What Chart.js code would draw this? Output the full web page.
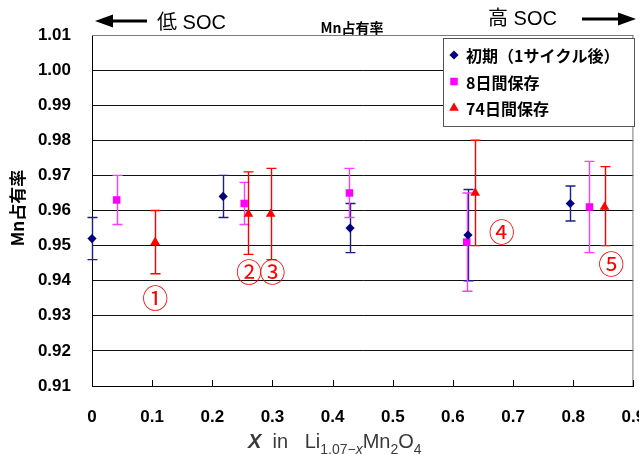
<!DOCTYPE html>
<html lang="ja">
<head>
<meta charset="utf-8">
<title>Mn占有率</title>
<script src="https://cdn.jsdelivr.net/npm/chart.js@4.4.1/dist/chart.umd.min.js"></script>
<style>
  html, body { margin: 0; padding: 0; background: #fff; overflow: hidden; }
  #wrap { width: 639px; height: 454px; }
</style>
</head>
<body>
<div id="wrap"><canvas id="mnChart" width="639" height="454"></canvas></div>
<script>
// Mn占有率 vs X in Li(1.07-x)Mn2O4
const xInitial = [0.000, 0.218, 0.429, 0.625, 0.795];
const yInitial = [0.952, 0.964, 0.955, 0.953, 0.962];
const loInitial = [0.946, 0.958, 0.948, 0.940, 0.957];
const hiInitial = [0.958, 0.970, 0.962, 0.966, 0.967];

const x8days = [0.041, 0.253, 0.428, 0.623, 0.827];
const y8days = [0.963, 0.962, 0.965, 0.951, 0.961];
const lo8days = [0.956, 0.956, 0.958, 0.937, 0.948];
const hi8days = [0.970, 0.968, 0.972, 0.965, 0.974];

const x74days = [0.105, 0.260, 0.297, 0.637, 0.852];
const y74days = [0.951, 0.959, 0.959, 0.965, 0.961];
const lo74days = [0.942, 0.9475, 0.946, 0.950, 0.950];
const hi74days = [0.960, 0.971, 0.972, 0.980, 0.9725];

const seriesNames = ['初期（1サイクル後）', '8日間保存', '74日間保存'];

// circled sample numbers, in data units
const noteText = ['①', '②', '③', '④', '⑤'];
const noteX = [0.105, 0.261, 0.300, 0.681, 0.863];
const noteY = [0.9354, 0.9426, 0.9426, 0.954, 0.945];

const yMin = 0.91, yMax = 1.01, yStep = 0.01;
const xMin = 0, xMax = 0.9, xStep = 0.1;

(function () {
    const navy = '#000080';
    const navyBar = '#1c1c94';
    const magenta = '#ff00ff';
    const magentaBar = '#ff3cff';
    const red = '#ff0000';
    const numFamily = "'Liberation Sans', 'DejaVu Sans', sans-serif";
    const jpFont = "'Liberation Sans', 'Noto Sans CJK JP', sans-serif";

    const pts = (xs, ys) => xs.map((x, i) => ({ x, y: ys[i] }));
    const errLow = [loInitial, lo8days, lo74days];
    const errHigh = [hiInitial, hi8days, hi74days];
    const barColors = [navyBar, magentaBar, red];
    const dotColors = [navy, magenta, red];
    const dotStyles = ['rectRot', 'rect', 'triangle'];
    const dotSizes = [4.6, 5.3, 5.6];

    const fmt = v => (Math.abs(v) < 1e-9 ? '0' : v.toFixed(v >= 0.905 ? 2 : 1));

    const errorBars = {
        id: 'errorBars',
        beforeDatasetsDraw(chart) {
            const { ctx, scales: { x, y } } = chart;
            chart.data.datasets.forEach((ds, i) => {
                ctx.save();
                ctx.strokeStyle = barColors[i];
                ctx.lineWidth = 1.4;
                ds.data.forEach((p, j) => {
                    const px = Math.round(x.getPixelForValue(p.x)) + 0.5;
                    const top = y.getPixelForValue(errHigh[i][j]);
                    const bot = y.getPixelForValue(errLow[i][j]);
                    ctx.beginPath();
                    ctx.moveTo(px, top); ctx.lineTo(px, bot);
                    ctx.moveTo(px - 5, top); ctx.lineTo(px + 5, top);
                    ctx.moveTo(px - 5, bot); ctx.lineTo(px + 5, bot);
                    ctx.stroke();
                });
                ctx.restore();
            });
        }
    };

    function arrow(ctx, x0, x1, y) {
        const dir = Math.sign(x1 - x0);
        ctx.beginPath();
        ctx.lineWidth = 3;
        ctx.moveTo(x0, y); ctx.lineTo(x1 - dir * 14, y);
        ctx.stroke();
        ctx.beginPath();
        ctx.moveTo(x1, y);
        ctx.lineTo(x1 - dir * 18, y - 6.5);
        ctx.lineTo(x1 - dir * 18, y + 6.5);
        ctx.closePath();
        ctx.fill();
    }

    const decorations = {
        id: 'decorations',
        beforeDraw(chart) {
            const { ctx } = chart;
            ctx.save();
            ctx.fillStyle = '#fff';
            ctx.fillRect(0, 0, chart.width, chart.height);
            ctx.restore();
        },
        afterDraw(chart) {
            const { ctx, chartArea: a, scales: { x, y } } = chart;
            ctx.save();

            // top and right frame
            ctx.strokeStyle = '#7a7a7a';
            ctx.lineWidth = 1;
            ctx.beginPath();
            ctx.moveTo(a.left, a.top + 0.5); ctx.lineTo(a.right - 0.5, a.top + 0.5);
            ctx.lineTo(a.right - 0.5, a.bottom);
            ctx.stroke();

            // inward x ticks
            ctx.strokeStyle = '#000';
            x.ticks.forEach(t => {
                const px = Math.round(x.getPixelForValue(t.value)) + 0.5;
                ctx.beginPath();
                ctx.moveTo(px, a.bottom - 6); ctx.lineTo(px, a.bottom);
                ctx.stroke();
            });

            // circled numbers
            ctx.fillStyle = red;
            ctx.font = "26px 'Noto Sans CJK JP', sans-serif";
            ctx.textAlign = 'center';
            ctx.textBaseline = 'middle';
            noteText.forEach((t, i) => {
                ctx.fillText(t, x.getPixelForValue(noteX[i]), y.getPixelForValue(noteY[i]) + 1);
            });

            // header: SOC arrows and title
            ctx.fillStyle = '#000';
            ctx.strokeStyle = '#000';
            arrow(ctx, 147, 95, 21);
            arrow(ctx, 582, 636, 19);
            ctx.font = '20px ' + jpFont;
            ctx.textAlign = 'left';
            ctx.fillText('低 SOC', 157, 23);
            ctx.fillText('高 SOC', 488, 19);
            ctx.font = "bold 14px 'Liberation Sans Narrow', 'Noto Sans CJK JP', sans-serif";
            ctx.textAlign = 'center';
            ctx.fillText('Mn占有率', 352, 28);

            // y title
            ctx.save();
            ctx.translate(18, 208);
            ctx.rotate(-Math.PI / 2);
            ctx.font = "bold 17px 'Liberation Sans Narrow', 'Noto Sans CJK JP', sans-serif";
            ctx.fillText('Mn占有率', 0, 0);
            ctx.restore();

            // x title: X in Li(1.07-x)Mn2O4
            ctx.fillStyle = '#3a3a3a';
            ctx.textAlign = 'left';
            ctx.textBaseline = 'alphabetic';
            let cx = 248;
            const put = (txt, font, dy) => {
                ctx.font = font;
                ctx.fillText(txt, cx, 448 + (dy || 0));
                cx += ctx.measureText(txt).width;
            };
            put('X', "italic bold 20px 'Liberation Sans', sans-serif");
            put('  in   Li', "20px 'Liberation Sans', sans-serif");
            put('1.07−', "14px 'Liberation Sans', sans-serif", 6);
            put('x', "italic 14px 'Liberation Sans', sans-serif", 6);
            put('Mn', "20px 'Liberation Sans', sans-serif");
            put('2', "14px 'Liberation Sans', sans-serif", 6);
            put('O', "20px 'Liberation Sans', sans-serif");
            put('4', "14px 'Liberation Sans', sans-serif", 6);

            // legend box
            const lx = 443, ly = 38, lw = 192, lh = 88;
            ctx.fillStyle = '#fff';
            ctx.fillRect(lx, ly, lw, lh);
            ctx.strokeStyle = '#555';
            ctx.lineWidth = 1;
            ctx.strokeRect(lx + 0.5, ly + 0.5, lw - 1, lh);
            ctx.font = "bold 16px 'Noto Sans CJK JP', sans-serif";
            ctx.textBaseline = 'middle';
            seriesNames.forEach((name, i) => {
                const rowY = 55 + i * 26.5;
                ctx.fillStyle = dotColors[i];
                Chart.helpers.drawPoint(ctx, { pointStyle: dotStyles[i], radius: dotSizes[i], rotation: 0, borderWidth: 0 }, 454, rowY);
                ctx.fillStyle = '#000';
                ctx.fillText(name, 466, rowY + 1);
            });
            ctx.restore();
        }
    };

    const datasets = [
        { label: seriesNames[0], data: pts(xInitial, yInitial) },
        { label: seriesNames[1], data: pts(x8days, y8days) },
        { label: seriesNames[2], data: pts(x74days, y74days) }
    ].map((ds, i) => Object.assign(ds, {
        pointStyle: dotStyles[i],
        pointRadius: dotSizes[i],
        pointHoverRadius: dotSizes[i],
        pointBackgroundColor: dotColors[i],
        pointBorderColor: dotColors[i],
        pointBorderWidth: 0,
        showLine: false,
        clip: false
    }));

    new Chart(document.getElementById('mnChart'), {
        type: 'scatter',
        data: { datasets },
        options: {
            responsive: false,
            animation: false,
            devicePixelRatio: 1,
            layout: { padding: { left: 0, right: 4, top: 35, bottom: 0 } },
            plugins: { legend: { display: false }, tooltip: { enabled: false } },
            scales: {
                x: {
                    type: 'linear',
                    min: xMin, max: xMax,
                    ticks: { stepSize: xStep, color: '#000', font: { size: 17, weight: 'bold', family: numFamily }, padding: 21, maxRotation: 0, autoSkip: false, callback: v => fmt(v) },
                    grid: { display: false, drawTicks: false },
                    border: { color: '#000', width: 1 },
                    afterFit: s => { s.height = 68; s.paddingLeft = 0; s.paddingRight = 0; }
                },
                y: {
                    min: yMin, max: yMax,
                    ticks: { stepSize: yStep, color: '#000', font: { size: 17, weight: 'bold', family: numFamily }, padding: 21, callback: v => fmt(v) },
                    grid: { color: '#111', lineWidth: 1, drawTicks: false },
                    border: { color: '#000', width: 1 },
                    afterFit: s => { s.width = 92; s.paddingTop = 0; s.paddingBottom = 0; }
                }
            }
        },
        plugins: [errorBars, decorations]
    });
})();
</script>
</body>
</html>
